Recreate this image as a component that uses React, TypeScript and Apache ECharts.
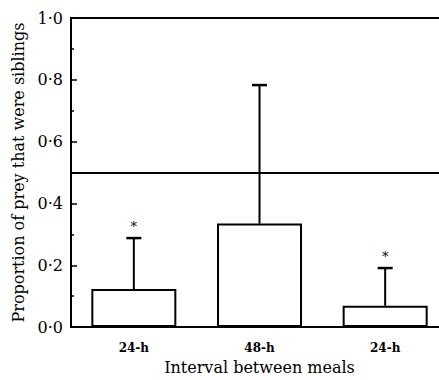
import React, { useEffect, useRef } from "react";
import * as echarts from "echarts";

const categories = ["24-h", "48-h", "24-h"];
const meanValues = [0.123, 0.335, 0.069];
const errorTops = [0.288, 0.783, 0.191];
const sigMarks = ["*", "", "*"];
const referenceLevel = 0.5;
const yTicks = [0, 0.2, 0.4, 0.6, 0.8, 1.0];

const FONT = "DejaVu Serif";

export default function App() {
  const ref = useRef<HTMLDivElement>(null);
  useEffect(() => {
    if (!ref.current) return;
    const chart = echarts.init(ref.current, undefined, { renderer: "svg" });
    const option: any = {
      animation: false,
      backgroundColor: "#fff",
      grid: {
        left: 71,
        top: 18,
        right: 0,
        bottom: 52,
        show: true,
        borderColor: "#000",
        borderWidth: 2,
        backgroundColor: "transparent",
      },
      xAxis: {
        type: "category",
        data: categories,
        name: "Interval between meals",
        nameLocation: "middle",
        nameGap: 29,
        nameTextStyle: { fontFamily: FONT, fontSize: 16, color: "#000" },
        axisLine: { lineStyle: { color: "#000", width: 2 } },
        axisTick: { show: false },
        axisLabel: {
          fontFamily: FONT,
          fontSize: 12,
          fontWeight: "bold",
          color: "#000",
          margin: 15,
        },
        splitLine: { show: false },
      },
      yAxis: {
        type: "value",
        min: yTicks[0],
        max: yTicks[yTicks.length - 1],
        interval: 0.2,
        name: "Proportion of prey that were siblings",
        nameLocation: "middle",
        nameGap: 43,
        nameTextStyle: { fontFamily: FONT, fontSize: 16, color: "#000" },
        axisLine: { show: true, lineStyle: { color: "#000", width: 2 } },
        axisTick: { show: true, inside: true, length: 6, lineStyle: { color: "#000", width: 1.5 } },
        minorTick: { show: true, splitNumber: 2, length: 3, lineStyle: { color: "#000", width: 1.5 } },
        axisLabel: {
          fontFamily: FONT,
          fontSize: 16,
          color: "#000",
          margin: 8,
          formatter: (v: number) => v.toFixed(1).replace(".", "·"),
        },
        splitLine: { show: false },
      },
      series: [
        {
          type: "bar",
          data: meanValues,
          barWidth: 85,
          itemStyle: { color: "#fff", borderColor: "#000", borderWidth: 2 },
          markLine: {
            silent: true,
            symbol: "none",
            label: { show: false },
            lineStyle: { color: "#000", width: 2, type: "solid" },
            data: [{ yAxis: referenceLevel }],
          },
          z: 2,
        },
        {
          type: "custom",
          data: categories.map((_, i) => [i, meanValues[i], errorTops[i]]),
          renderItem: (params: any, api: any) => {
            const i = api.value(0);
            const low = api.coord([i, api.value(1)]);
            const high = api.coord([i, api.value(2)]);
            const half = 7.5;
            const children: any[] = [
              {
                type: "line",
                shape: { x1: low[0], y1: low[1], x2: high[0], y2: high[1] },
                style: { stroke: "#000", lineWidth: 2 },
              },
              {
                type: "line",
                shape: { x1: high[0] - half, y1: high[1], x2: high[0] + half, y2: high[1] },
                style: { stroke: "#000", lineWidth: 2.5 },
              },
            ];
            const mark = sigMarks[params.dataIndex];
            if (mark) {
              children.push({
                type: "text",
                x: high[0],
                y: high[1] - 12,
                style: {
                  text: mark,
                  fontFamily: FONT,
                  fontSize: 13,
                  fill: "#000",
                  align: "center",
                  verticalAlign: "middle",
                },
              });
            }
            return { type: "group", children };
          },
          z: 3,
        },
      ],
    };
    chart.setOption(option);
    return () => chart.dispose();
  }, []);
  return (
    <div style={{ position: "fixed", left: 0, top: 0, width: 439, height: 380, overflow: "hidden" }}>
      <div ref={ref} style={{ width: 448, height: 380 }} />
    </div>
  );
}
